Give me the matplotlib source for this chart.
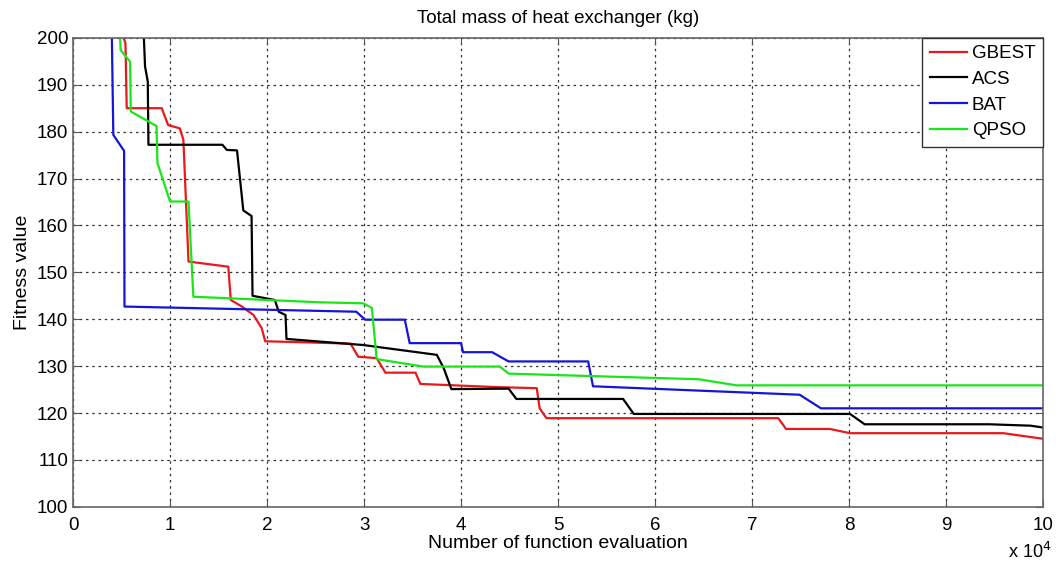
import numpy as np
import matplotlib.pyplot as plt

plt.rcParams['font.family'] = ['Liberation Sans', 'DejaVu Sans']

# x in units of 10^4 function evaluations, y = fitness value (kg)
gbest_x = [0.52, 0.54, 0.553, 0.914, 0.98, 1.10, 1.137, 1.19, 1.60, 1.626, 1.74, 1.86, 1.945, 1.98,
           2.86, 2.94, 3.13, 3.22, 3.53, 3.58, 4.40, 4.78, 4.81, 4.88, 7.27, 7.35, 7.80, 8.01, 9.59, 10.0]
gbest_y = [200, 198.9, 185.0, 185.0, 181.4, 180.7, 178.3, 152.3, 151.2, 144.1, 142.7, 140.9, 138.1, 135.3,
           134.8, 132.0, 131.7, 128.6, 128.6, 126.2, 125.5, 125.3, 121.0, 118.9, 118.9, 116.6, 116.6, 115.7, 115.7, 114.5]

acs_x = [0.73, 0.742, 0.77, 0.777, 1.54, 1.585, 1.69, 1.755, 1.84, 1.85, 2.08, 2.12, 2.19, 2.20,
         2.99, 3.75, 3.82, 3.90, 4.49, 4.57, 5.67, 5.78, 8.01, 8.16, 9.44, 9.87, 10.0]
acs_y = [200, 193.9, 190.7, 177.2, 177.2, 176.1, 176.0, 163.2, 162.0, 145.0, 144.1, 141.6, 140.9, 135.8,
         134.5, 132.4, 129.6, 125.1, 125.2, 123.0, 123.0, 119.8, 119.8, 117.6, 117.6, 117.3, 116.9]

bat_x = [0.40, 0.415, 0.526, 0.53, 2.92, 3.01, 3.42, 3.47, 4.0, 4.02, 4.32, 4.49, 5.31, 5.36,
         7.49, 7.71, 10.0]
bat_y = [200, 179.3, 175.9, 142.7, 141.6, 139.9, 139.9, 134.9, 134.9, 132.97, 132.97, 131.0, 131.0, 125.7,
         123.9, 121.0, 121.0]

qpso_x = [0.485, 0.49, 0.588, 0.595, 0.86, 0.87, 1.0, 1.19, 1.24, 2.55, 2.99, 3.08, 3.13, 3.61,
          4.40, 4.49, 6.45, 6.84, 10.0]
qpso_y = [200, 197.4, 194.9, 184.3, 181.2, 173.3, 165.1, 165.1, 144.8, 143.6, 143.4, 142.4, 131.5, 129.9,
          129.9, 128.4, 127.2, 125.9, 125.9]

x_ticks = np.arange(0, 11, 1)
y_ticks = np.arange(100, 201, 10)

fig = plt.figure(figsize=(10.59, 5.65), dpi=100)
ax = fig.add_axes([0.069, 0.103, 0.916, 0.830])

ax.plot(gbest_x, gbest_y, color='#e8191c', lw=1.6, label='GBEST')
ax.plot(acs_x, acs_y, color='black', lw=1.6, label='ACS')
ax.plot(bat_x, bat_y, color='#1515d8', lw=1.6, label='BAT')
ax.plot(qpso_x, qpso_y, color='#19e619', lw=1.6, label='QPSO')

ax.set_xlim(0, 10)
ax.set_ylim(100, 200)
ax.set_xticks(x_ticks)
ax.set_yticks(y_ticks)
ax.tick_params(direction='in', labelsize=13.5, length=5, color='#555555')
ax.tick_params(axis='x', pad=7)
ax.tick_params(top=True, right=True)
ax.grid(True, color='#333333', linestyle=(0, (2, 3)), lw=0.9)
for s in ax.spines.values():
    s.set_color('#666666')
    s.set_linewidth(1.2)

ax.set_title('Total mass of heat exchanger (kg)', fontsize=13.5, pad=11)
ax.set_xlabel('Number of function evaluation', fontsize=14, labelpad=1)
ax.set_ylabel('Fitness value', fontsize=14, labelpad=4)
fig.text(0.972, 0.012, r'x 10$^4$', fontsize=13, ha='center')

leg = ax.legend(loc='upper right', fontsize=13.5, fancybox=False, framealpha=1,
                edgecolor='#333333', borderaxespad=0, handlelength=2.0,
                handletextpad=0.25, labelspacing=0.45, borderpad=0.4)
leg.get_frame().set_linewidth(1.0)

fig.savefig('out.png', dpi=100)
